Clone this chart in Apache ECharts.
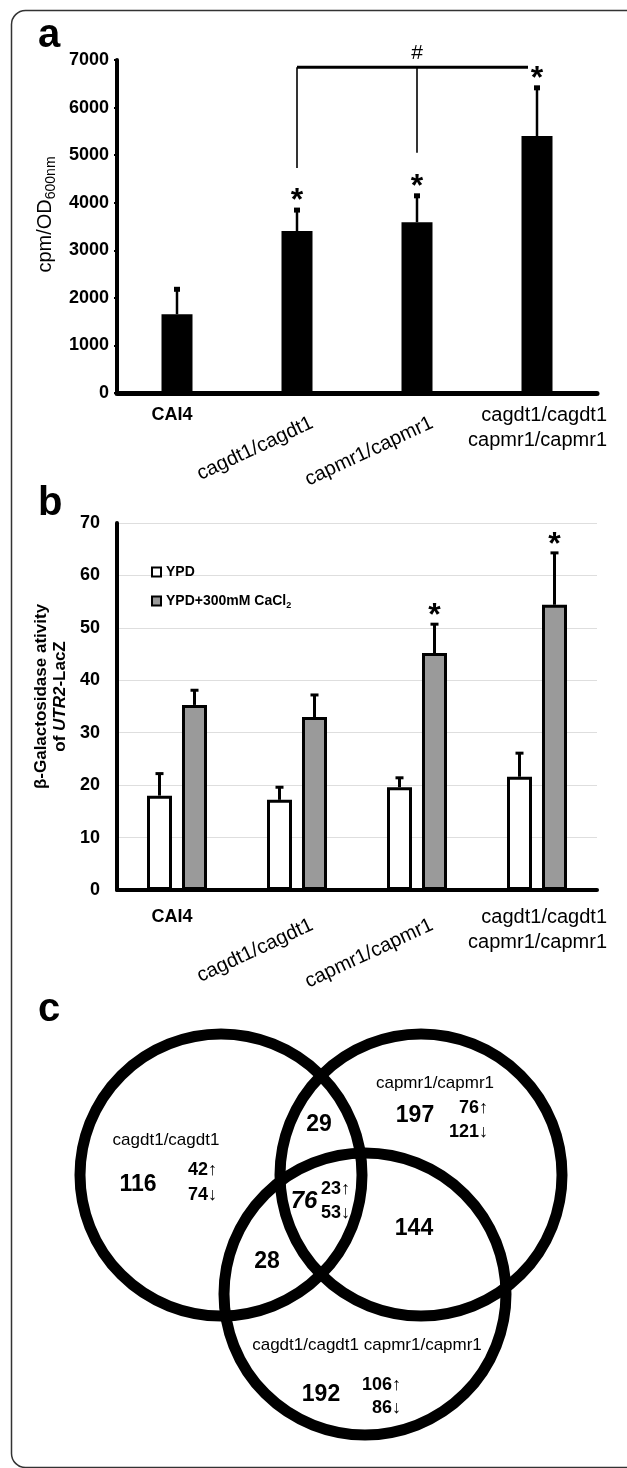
<!DOCTYPE html>
<html><head><meta charset="utf-8">
<script src="https://cdn.jsdelivr.net/npm/echarts@6/dist/echarts.min.js"></script>
<style>html,body{margin:0;padding:0;background:#fff}#c{width:627px;height:1468px}</style>
</head><body><div id="c"></div>
<script>
// ---------- data ----------
const CATEGORIES = ['CAI4', 'cagdt1/cagdt1', 'capmr1/capmr1', 'cagdt1/cagdt1\ncapmr1/capmr1'];

// panel a : cpm/OD600nm
const A_VALUES = [1655, 3405, 3590, 5400];
const A_ERRORS = [525, 440, 555, 1015];
const A_SIG = [0, 1, 1, 1];
// bracket: [fromCat, midCat, toCat, topValue, fromLegBottom, midLegBottom]
const A_BRACKET = [1, 2, 3, 6850, 4730, 5050];

// panel b : beta-galactosidase activity
const B_SERIES = ['YPD', 'YPD+300mM CaCl2'];
const B_YPD = [18.0, 17.2, 19.6, 21.6];
const B_YPD_ERR = [4.2, 2.4, 1.8, 4.5];
const B_CACL2 = [35.3, 33.0, 45.2, 54.4];
const B_CACL2_ERR = [2.8, 4.2, 5.5, 9.9];
const B_SIG = [0, 0, 1, 1];

// panel c : Venn counts
const VENN_SET_NAMES = ['cagdt1/cagdt1', 'capmr1/capmr1', 'cagdt1/cagdt1 capmr1/capmr1'];
const VENN_ONLY = [116, 197, 192];
const VENN_ONLY_UP = [42, 76, 106];
const VENN_ONLY_DOWN = [74, 121, 86];
const VENN_PAIRS = [29, 28, 144]; // A&B, A&C, B&C
const VENN_ALL = [76, 23, 53];    // total, up, down

// ---------- layout ----------
const FF = "'Liberation Sans', Arial, Helvetica, sans-serif";
const VENN_LAYOUT = {
  circles: [[221, 1175, 141], [421, 1175, 141], [365, 1294, 141]],
  name: [[166, 1140], [435, 1083], [367, 1345]],
  total: [[138, 1185], [415, 1116], [321, 1395]],
  upRight: [[217, 1170], [488, 1108], [401, 1385]],
  downRight: [[217, 1195], [488, 1132], [401, 1408]],
  pairs: [[319, 1125], [267, 1262], [414, 1229]],
  all: [304, 1201], allRight: 350, allUpY: 1189, allDownY: 1213
};
const B_BAR_W = 25, B_GAP = 10;
const B_OFF = (B_BAR_W + B_GAP) / 2;

function txt(x, y, text, o) {
  o = o || {};
  const align = o.align || 'center', va = o.va || 'middle';
  const el = {
    type: 'text', x: x, y: y, rotation: o.rotation || 0, silent: true,
    style: {
      text: text, fill: '#000', fontFamily: FF,
      fontSize: o.size || 18, fontWeight: o.weight || 'normal', fontStyle: o.style || 'normal',
      align: align, verticalAlign: va, textAlign: align, textVerticalAlign: va
    }
  };
  if (o.lineHeight) el.style.lineHeight = o.lineHeight;
  if (o.rich) el.style.rich = o.rich;
  return el;
}

function makeErr(offset, capW, capH, lw, starDy) {
  return function (params, api) {
    const i = api.value(0), v = api.value(1), e = api.value(2), s = api.value(3);
    const p0 = api.coord([i, v]), p1 = api.coord([i, v + e]);
    const x = p0[0] + offset;
    const ch = [
      { type: 'line', shape: { x1: x, y1: p0[1], x2: x, y2: p1[1] }, style: { stroke: '#000', lineWidth: lw } },
      { type: 'rect', shape: { x: x - capW / 2, y: p1[1] - capH / 2, width: capW, height: capH }, style: { fill: '#000' } }
    ];
    if (s) ch.push(txt(x, p1[1] - starDy, '*', { size: 32, weight: 'bold' }));
    return { type: 'group', children: ch };
  };
}

function makeXLabels(dy) {
  return function (params, api) {
    const i = api.value(0);
    const p = api.coord([i, 0]);
    const name = CATEGORIES[i];
    const y0 = p[1] + dy;
    if (i === 0) return txt(p[0] - 5, y0 + 22, name, { size: 18, weight: 'bold' });
    if (name.indexOf('\n') >= 0) return txt(p[0] + 70, y0 + 34.5, name, { size: 20, align: 'right', lineHeight: 25 });
    return txt(p[0] + 15, y0 + 29, name, { size: 20, align: 'right', rotation: 25 * Math.PI / 180 });
  };
}

function renderBracket(params, api) {
  const f = api.value(0), m = api.value(1), t = api.value(2);
  const top = api.value(3), fb = api.value(4), mb = api.value(5);
  const pf = api.coord([f, top]), pm = api.coord([m, top]), pt = api.coord([t, top]);
  const pfb = api.coord([f, fb]), pmb = api.coord([m, mb]);
  return {
    type: 'group', children: [
      { type: 'line', shape: { x1: pf[0], y1: pf[1], x2: pt[0] - 9, y2: pt[1] }, style: { stroke: '#000', lineWidth: 3 } },
      { type: 'line', shape: { x1: pf[0], y1: pf[1], x2: pfb[0], y2: pfb[1] }, style: { stroke: '#000', lineWidth: 1.6 } },
      { type: 'line', shape: { x1: pm[0], y1: pm[1], x2: pmb[0], y2: pmb[1] }, style: { stroke: '#000', lineWidth: 1.6 } },
      txt(pm[0], pm[1] - 14, '#', { size: 21 })
    ]
  };
}

function upDown(n, arrow) {
  return { text: '{d|' + n + '}{r|' + arrow + '}', rich: {
    d: { fontFamily: FF, fontSize: 18, fontWeight: 'bold', fill: '#000' },
    r: { fontFamily: FF, fontSize: 18, fontWeight: 'normal', fill: '#000' } } };
}

function renderVenn(params, api) {
  const L = VENN_LAYOUT, ch = [];
  const P = (q) => api.coord([q[0], q[1]]);
  L.circles.forEach(c => {
    const p = P(c), r = Math.abs(api.size([c[2], c[2]])[0]);
    ch.push({ type: 'circle', shape: { cx: p[0], cy: p[1], r: r }, style: { fill: 'none', stroke: '#000', lineWidth: 11 } });
  });
  for (let k = 0; k < 3; k++) {
    let p = P(L.name[k]); ch.push(txt(p[0], p[1], VENN_SET_NAMES[k], { size: 17 }));
    p = P(L.total[k]); ch.push(txt(p[0], p[1], String(VENN_ONLY[k]), { size: 23, weight: 'bold' }));
    p = P(L.upRight[k]); let u = upDown(VENN_ONLY_UP[k], '↑');
    ch.push(txt(p[0], p[1], u.text, { align: 'right', rich: u.rich }));
    p = P(L.downRight[k]); u = upDown(VENN_ONLY_DOWN[k], '↓');
    ch.push(txt(p[0], p[1], u.text, { align: 'right', rich: u.rich }));
    p = P(L.pairs[k]); ch.push(txt(p[0], p[1], String(VENN_PAIRS[k]), { size: 23, weight: 'bold' }));
  }
  let p = P(L.all); ch.push(txt(p[0], p[1], String(VENN_ALL[0]), { size: 24, weight: 'bold', style: 'italic' }));
  p = P([L.allRight, L.allUpY]); let u = upDown(VENN_ALL[1], '↑');
  ch.push(txt(p[0], p[1], u.text, { align: 'right', rich: u.rich }));
  p = P([L.allRight, L.allDownY]); u = upDown(VENN_ALL[2], '↓');
  ch.push(txt(p[0], p[1], u.text, { align: 'right', rich: u.rich }));
  return { type: 'group', children: ch };
}

const chart = echarts.init(document.getElementById('c'), null, { renderer: 'canvas', width: 627, height: 1468 });

const yLabel = { fontSize: 18, fontWeight: 'bold', color: '#000', fontFamily: FF, formatter: v => String(v) };

const option = {
  animation: false,
  backgroundColor: '#fff',
  tooltip: { show: false },
  grid: [
    { left: 117, top: 60, width: 480, height: 333 },
    { left: 117, top: 523, width: 480, height: 367 },
    { left: 0, top: 0, width: 627, height: 1468 }
  ],
  xAxis: [
    { gridIndex: 0, type: 'category', data: CATEGORIES, axisLine: { lineStyle: { color: '#000', width: 5 } },
      axisTick: { show: false }, axisLabel: { show: false } },
    { gridIndex: 1, type: 'category', data: CATEGORIES, axisLine: { lineStyle: { color: '#000', width: 4 } },
      axisTick: { show: false }, axisLabel: { show: false } },
    { gridIndex: 2, type: 'value', min: 0, max: 627, show: false }
  ],
  yAxis: [
    { gridIndex: 0, type: 'value', min: 0, max: 7000, interval: 1000,
      axisLine: { show: true, lineStyle: { color: '#000', width: 4 } },
      axisTick: { show: true, length: 3, lineStyle: { color: '#000', width: 2 } },
      splitLine: { show: false },
      axisLabel: Object.assign({ margin: 8 }, yLabel),
      name: '{m|cpm/OD}{s|600nm}', nameLocation: 'middle', nameRotate: 90, nameGap: 55,
      nameTextStyle: { padding: [0, 0, 0, 24], rich: {
        m: { fontFamily: FF, fontSize: 20, color: '#000', lineHeight: 26 },
        s: { fontFamily: FF, fontSize: 14, color: '#000', lineHeight: 14, verticalAlign: 'bottom' } } } },
    { gridIndex: 1, type: 'value', min: 0, max: 70, interval: 10,
      axisLine: { show: true, lineStyle: { color: '#000', width: 4 } },
      axisTick: { show: false },
      splitLine: { show: true, lineStyle: { color: '#dedede', width: 1 } },
      axisLabel: Object.assign({ margin: 17 }, yLabel),
      name: '{t|β-Galactosidase ativity}\n{t|of }{i|UTR2}{t|-LacZ}', nameLocation: 'middle', nameRotate: 90, nameGap: 46,
      nameTextStyle: { padding: [0, 0, 0, 20], rich: {
        t: { fontFamily: FF, fontSize: 17, fontWeight: 'bold', color: '#000', lineHeight: 19 },
        i: { fontFamily: FF, fontSize: 17, fontWeight: 'bold', fontStyle: 'italic', color: '#000', lineHeight: 19 } } } },
    { gridIndex: 2, type: 'value', min: 0, max: 1468, inverse: true, show: false }
  ],
  legend: {
    data: B_SERIES, orient: 'vertical', left: 146, top: 560, icon: 'rect',
    itemWidth: 9, itemHeight: 9, itemGap: 15, selectedMode: false,
    itemStyle: { borderColor: '#000', borderWidth: 2 },
    formatter: n => n === B_SERIES[1] ? '{n|YPD+300mM CaCl}{s|2}' : '{n|' + n + '}',
    textStyle: { rich: {
      n: { fontFamily: FF, fontSize: 14, fontWeight: 'bold', color: '#000', lineHeight: 18 },
      s: { fontFamily: FF, fontSize: 9, fontWeight: 'bold', color: '#000', lineHeight: 10, verticalAlign: 'bottom' } } }
  },
  series: [
    { type: 'bar', xAxisIndex: 0, yAxisIndex: 0, data: A_VALUES, barWidth: 31, silent: true,
      itemStyle: { color: '#000' } },
    { type: 'custom', xAxisIndex: 0, yAxisIndex: 0, silent: true, z: 5,
      data: A_VALUES.map((v, i) => [i, v, A_ERRORS[i], A_SIG[i]]),
      renderItem: makeErr(0, 6, 5, 2.5, 9) },
    { type: 'custom', xAxisIndex: 0, yAxisIndex: 0, silent: true, z: 5,
      data: [A_BRACKET], renderItem: renderBracket },
    { type: 'custom', xAxisIndex: 0, yAxisIndex: 0, silent: true, clip: false,
      data: CATEGORIES.map((c, i) => [i, 0]), renderItem: makeXLabels(0) },

    { name: B_SERIES[0], type: 'bar', xAxisIndex: 1, yAxisIndex: 1, data: B_YPD, barWidth: B_BAR_W,
      barGap: (B_GAP / B_BAR_W * 100) + '%', silent: true,
      itemStyle: { color: '#ffffff', borderColor: '#000', borderWidth: 3 } },
    { name: B_SERIES[1], type: 'bar', xAxisIndex: 1, yAxisIndex: 1, data: B_CACL2, barWidth: B_BAR_W,
      barGap: (B_GAP / B_BAR_W * 100) + '%', silent: true,
      itemStyle: { color: '#9a9a9a', borderColor: '#000', borderWidth: 3 } },
    { type: 'custom', xAxisIndex: 1, yAxisIndex: 1, silent: true, z: 5,
      data: B_YPD.map((v, i) => [i, v, B_YPD_ERR[i], 0]),
      renderItem: makeErr(-B_OFF, 8, 3, 3, 8) },
    { type: 'custom', xAxisIndex: 1, yAxisIndex: 1, silent: true, z: 5,
      data: B_CACL2.map((v, i) => [i, v, B_CACL2_ERR[i], B_SIG[i]]),
      renderItem: makeErr(B_OFF, 8, 3, 3, 8) },
    { type: 'custom', xAxisIndex: 1, yAxisIndex: 1, silent: true, clip: false,
      data: CATEGORIES.map((c, i) => [i, 0]), renderItem: makeXLabels(5) },

    { type: 'custom', xAxisIndex: 2, yAxisIndex: 2, silent: true, clip: false,
      data: [[0, 0]], renderItem: renderVenn }
  ],
  graphic: [
    { type: 'rect', left: 9, top: 8, silent: true, z: -1,
      shape: { x: 0, y: 0, width: 680, height: 1457, r: 14 },
      style: { fill: 'none', stroke: '#333', lineWidth: 1.5 } },
    { type: 'text', left: 38, top: 16, silent: true, style: { text: 'a', fontFamily: FF, fontSize: 40, fontWeight: 'bold', fill: '#000' } },
    { type: 'text', left: 38, top: 484, silent: true, style: { text: 'b', fontFamily: FF, fontSize: 40, fontWeight: 'bold', fill: '#000' } },
    { type: 'text', left: 38, top: 990, silent: true, style: { text: 'c', fontFamily: FF, fontSize: 40, fontWeight: 'bold', fill: '#000' } }
  ]
};
chart.setOption(option);
</script>
</body></html>
